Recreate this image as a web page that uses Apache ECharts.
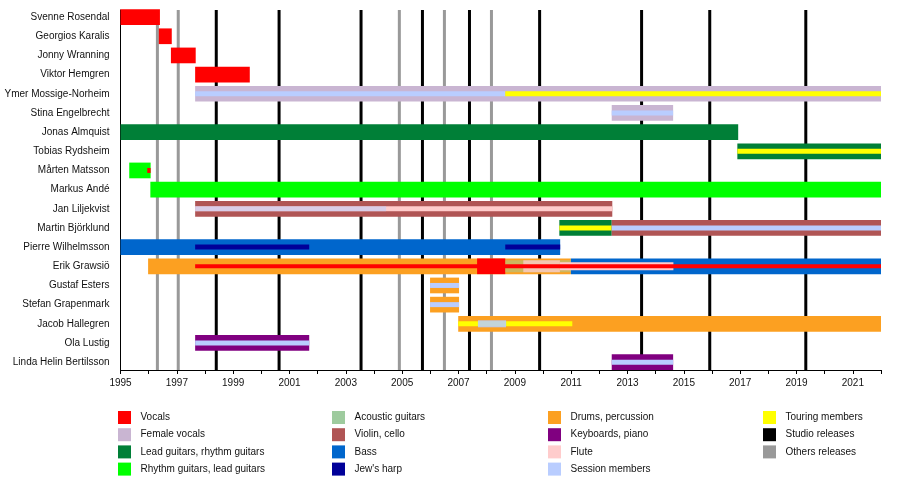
<!DOCTYPE html>
<html><head><meta charset="utf-8">
<script src="https://cdn.jsdelivr.net/npm/echarts@6/dist/echarts.min.js"></script>
<style>html,body{margin:0;padding:0;background:#fff}#c{width:900px;height:489px}</style>
</head><body><div id="c"></div>
<script>
const members = ['Svenne Rosendal','Georgios Karalis','Jonny Wranning','Viktor Hemgren','Ymer Mossige-Norheim','Stina Engelbrecht','Jonas Almquist','Tobias Rydsheim','Mårten Matsson','Markus Andé','Jan Liljekvist','Martin Björklund','Pierre Wilhelmsson','Erik Grawsiö','Gustaf Esters','Stefan Grapenmark','Jacob Hallegren','Ola Lustig','Linda Helin Bertilsson'];
const memberTicks = [0,1,2,3,4,5,6,7,8,9,10,11,12,13,14,15,16,17,18];
const roles = ['Vocals','Female vocals','Lead guitars, rhythm guitars','Rhythm guitars, lead guitars','Acoustic guitars','Violin, cello','Bass',"Jew's harp",'Drums, percussion','Keyboards, piano','Flute','Session members','Touring members'];
const roleColors = ['#ff0000','#c9b5d2','#007f37','#00ff00','#9ecb9e','#b05555','#0066cc','#000099','#fca021','#800080','#ffcccc','#b9cdff','#ffff00'];
const studioReleases = [1998.40, 2000.63, 2003.54, 2005.72, 2007.39, 2009.88, 2013.50, 2015.92, 2019.33];
const otherReleases = [1996.31, 1997.05, 2004.90, 2006.50, 2008.17];
const yearTicks = [1995,1996,1997,1998,1999,2000,2001,2002,2003,2004,2005,2006,2007,2008,2009,2010,2011,2012,2013,2014,2015,2016,2017,2018,2019,2020,2021,2022];
const yearLabels = [1995,1997,1999,2001,2003,2005,2007,2009,2011,2013,2015,2017,2019,2021];
// [member, role, start, end, layer]
const periods = [
  [0,0,1995.0,1996.4,'bar'],
  [1,0,1996.36,1996.82,'bar'],
  [2,0,1996.79,1997.67,'bar'],
  [3,0,1997.65,1999.59,'bar'],
  [4,1,1997.65,2022,'bar'],[4,11,1997.65,2008.66,'line'],[4,12,2008.66,2022,'line'],
  [5,1,2012.44,2014.62,'bar'],[5,11,2012.44,2014.62,'line'],
  [6,2,1995.0,2016.93,'bar'],
  [7,2,2016.9,2022,'bar'],[7,12,2016.9,2022,'line'],
  [8,3,1995.31,1996.07,'bar'],[8,0,1995.95,1996.07,'line'],
  [9,3,1996.06,2022,'bar'],
  [10,5,1997.65,2012.46,'bar'],[10,10,1997.65,2012.46,'line'],[10,11,1997.65,2004.43,'lineBlend'],
  [11,2,2010.58,2012.44,'bar'],[11,12,2010.58,2012.44,'line'],[11,5,2012.44,2022,'bar'],[11,11,2012.44,2022,'line'],
  [12,6,1995.0,2010.61,'bar'],[12,7,1997.65,2001.70,'line'],[12,7,2008.66,2010.61,'line'],
  [13,8,1995.98,2010.99,'bar'],[13,6,2010.99,2022,'bar'],[13,0,2007.66,2008.66,'bar'],
  [13,4,2008.66,2010.99,'wideBlend'],[13,10,2009.3,2010.6,'wideSoft'],[13,10,2010.6,2014.63,'mid'],[13,0,1997.65,2022,'thin'],
  [14,8,2005.99,2007.02,'bar'],[14,11,2005.99,2007.02,'line'],
  [15,8,2005.99,2007.02,'bar'],[15,11,2005.99,2007.02,'line'],
  [16,8,2006.99,2022,'bar'],[16,12,2006.99,2011.04,'line'],[16,11,2007.69,2008.69,'midSoft'],
  [17,9,1997.65,2001.70,'bar'],[17,11,1997.65,2001.70,'line'],
  [18,9,2012.44,2014.62,'bar'],[18,11,2012.44,2014.62,'line']
];

const FONT = '"Liberation Sans", Arial, sans-serif';
const Y_MIN = -0.37, Y_MAX = 18.41;
const layers = {
  bar:{h:15.7,o:1}, wideBlend:{h:12,o:0.5}, wideSoft:{h:12,o:0.75}, mid:{h:8,o:1}, midSoft:{h:7,o:0.85},
  line:{h:5,o:1}, lineBlend:{h:5,o:0.55}, thin:{h:4,o:1}
};

function renderPeriod(params, api) {
  const item = periods[params.dataIndex];
  const p1 = api.coord([item[2], item[0]]);
  const p2 = api.coord([item[3], item[0]]);
  const L = layers[item[4]];
  return {type:'rect', shape:{x:p1[0], y:p1[1]-L.h/2, width:p2[0]-p1[0], height:L.h},
    style:{fill:roleColors[item[1]], opacity:L.o}};
}
function releaseSeries(name, list, color) {
  return {type:'custom', name:name, itemStyle:{color:color}, data:list.map(v=>[v, 0]), encode:{x:0, y:1},
    renderItem:(p, api) => {
      const a = api.coord([api.value(0), Y_MIN]);
      const b = api.coord([api.value(0), Y_MAX]);
      return {type:'line', shape:{x1:a[0], y1:a[1], x2:b[0], y2:b[1]}, style:{stroke:color, lineWidth:3}};
    }};
}

const series = [
  releaseSeries('Others releases', otherReleases, '#999999'),
  releaseSeries('Studio releases', studioReleases, '#000000'),
  {type:'custom', name:'periods', data:periods.map(p=>[p[2], p[0], p[3]]), encode:{x:[0,2], y:1}, renderItem:renderPeriod}
];
roles.forEach((r,i) => series.push({type:'custom', name:r, data:[], itemStyle:{color:roleColors[i]}, renderItem:()=>null}));

const legendBase = {orient:'vertical', icon:'rect', itemWidth:13, itemHeight:13, itemGap:4.2, selectedMode:false, padding:0,
  textStyle:{fontSize:10, color:'#111', fontFamily:FONT, padding:[0,0,0,4.5]}};

const chart = echarts.init(document.getElementById('c'), null, {renderer:'canvas'});
chart.setOption({
  animation:false,
  backgroundColor:'#fff',
  textStyle:{fontFamily:FONT},
  grid:{left:120.5, right:19, top:10, bottom:119, containLabel:false, outerBoundsMode:'none'},
  xAxis:{type:'value', min:1995, max:2022, position:'bottom',
    axisLine:{show:true, onZero:false, lineStyle:{color:'#000', width:1}},
    axisTick:{show:true, length:4, customValues:yearTicks, lineStyle:{color:'#000'}},
    axisLabel:{fontSize:10, color:'#111', margin:8, fontFamily:FONT, customValues:yearLabels, formatter:v => String(v)},
    splitLine:{show:false}},
  yAxis:{type:'value', inverse:true, min:Y_MIN, max:Y_MAX,
    axisLine:{show:true, onZero:false, lineStyle:{color:'#000', width:1}},
    axisTick:{show:false},
    splitLine:{show:false},
    axisLabel:{fontSize:10, color:'#111', margin:11, fontFamily:FONT, customValues:memberTicks,
      formatter:v => members[Math.round(v)] || ''}},
  legend:[
    Object.assign({}, legendBase, {left:118, top:411, data:roles.slice(0,4)}),
    Object.assign({}, legendBase, {left:332, top:411, data:roles.slice(4,8)}),
    Object.assign({}, legendBase, {left:548, top:411, data:roles.slice(8,12)}),
    Object.assign({}, legendBase, {left:763, top:411, data:['Touring members','Studio releases','Others releases']})
  ],
  series:series
});
</script></body></html>
